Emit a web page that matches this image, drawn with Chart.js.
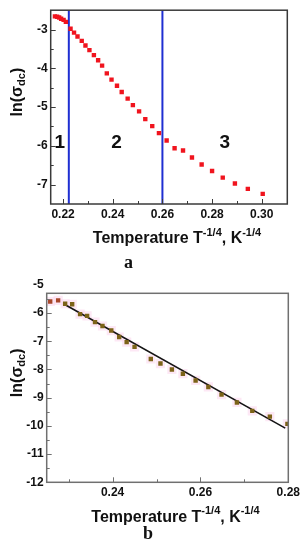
<!DOCTYPE html>
<html lang="en">
<head>
  <meta charset="UTF-8" />
  <title>ln(σdc) vs T^-1/4</title>
  <script src="https://cdn.jsdelivr.net/npm/chart.js@4.4.0/dist/chart.umd.min.js"></script>
  <style>
    body {
      margin: 0;
      background: #fff;
      width: 305px;
      height: 550px;
      position: relative;
      overflow: hidden;
    }
    .panel {
      position: absolute;
      left: 0;
      width: 305px;
      height: 275px;
    }
    .tag {
      position: absolute;
      font: bold 18px "Liberation Serif", serif;
      color: #111;
    }
  </style>
</head>
<body>
  <div class="panel" style="top:0"><canvas id="chartA" width="305" height="275"></canvas></div>
  <div class="panel" style="top:275px"><canvas id="chartB" width="305" height="275"></canvas></div>
  <div class="tag" style="left:124px; top:252px">a</div>
  <div class="tag" style="left:143px; top:523px">b</div>

  <script>
    // ---- panel a ----
    const tA = [0.2167, 0.2176, 0.2184, 0.2192, 0.2202, 0.2211, 0.2230, 0.2244, 0.2258, 0.2275,
                0.2290, 0.2306, 0.2324, 0.2341, 0.2357, 0.2376, 0.2395, 0.2417, 0.2436, 0.2460,
                0.2481, 0.2506, 0.2531, 0.2559, 0.2586, 0.2617, 0.2649, 0.2683, 0.2719, 0.2758,
                0.2800, 0.2843, 0.2892, 0.2944, 0.3004];
    const lnA = [-2.66, -2.67, -2.69, -2.72, -2.75, -2.80, -2.98, -3.08, -3.18, -3.29,
                 -3.41, -3.53, -3.66, -3.79, -3.93, -4.13, -4.29, -4.45, -4.61, -4.78,
                 -4.95, -5.11, -5.31, -5.49, -5.67, -5.86, -6.06, -6.12, -6.30, -6.48,
                 -6.65, -6.82, -6.97, -7.11, -7.24];
    const boundaries = [0.2223, 0.26];
    const regionNames = ['1', '2', '3'];
    const regionT = [0.2187, 0.2415, 0.2851];
    const regionLn = [-5.93, -5.93, -5.93];
    const xMajorA = [0.22, 0.24, 0.26, 0.28, 0.30];
    const xMinorA = [0.23, 0.25, 0.27, 0.29];
    const yMajorA = [-3, -4, -5, -6, -7];
    const yMinorA = [-3.5, -4.5, -5.5, -6.5];

    // ---- panel b ----
    const tB = [0.2258, 0.2276, 0.2292, 0.2308, 0.2326, 0.2342, 0.2360, 0.2377, 0.2397, 0.2415,
                0.2432, 0.2450, 0.2487, 0.2509, 0.2535, 0.2560, 0.2589, 0.2618, 0.2648, 0.2683,
                0.2718, 0.2758, 0.2798];
    const lnB = [-5.59, -5.55, -5.67, -5.69, -6.04, -6.10, -6.32, -6.46, -6.62, -6.85,
                 -7.03, -7.20, -7.63, -7.79, -8.00, -8.15, -8.39, -8.62, -8.89, -9.17,
                 -9.47, -9.67, -9.93];
    const fitT = [0.2288, 0.2793];
    const fitLn = [-5.67, -10.08];
    const xMajorB = [0.24, 0.26, 0.28];
    const xMinorB = [0.23, 0.25, 0.27];
    const yMajorB = [-5, -6, -7, -8, -9, -10, -11, -12];
    const yMinorB = [-5.5, -6.5, -7.5, -8.5, -9.5, -10.5, -11.5];

    const FONT = '"Liberation Sans", Arial, sans-serif';
    const xTitle = [['Temperature T', 0], ['-1/4', 1], [', K', 0], ['-1/4', 1]];
    const yTitle = [['ln(σ', 0], ['dc', -1], [')', 0]];

    const near = (arr, v) => arr.some(a => Math.abs(a - v) < 1e-6);

    function drawRich(ctx, parts, cx, cy, size) {
      const fontFor = k => `bold ${k ? Math.round(size * 0.68) : size}px ${FONT}`;
      let w = 0;
      parts.forEach(([t, k]) => { ctx.font = fontFor(k); w += ctx.measureText(t).width; });
      let x = cx - w / 2;
      ctx.textAlign = 'left';
      ctx.textBaseline = 'middle';
      parts.forEach(([t, k]) => {
        ctx.font = fontFor(k);
        const dy = k === 1 ? -size * 0.38 : (k === -1 ? size * 0.25 : 0);
        ctx.fillText(t, x, cy + dy);
        x += ctx.measureText(t).width;
      });
    }

    // frame, inward ticks, axis titles, region numbers
    function decor(cfg) {
      return {
        id: 'decor',
        afterDraw(chart) {
          const { ctx, chartArea: a } = chart;
          const sx = chart.scales.x, sy = chart.scales.y;
          ctx.save();
          ctx.strokeStyle = cfg.frame;
          ctx.lineWidth = 1;
          sx.ticks.forEach(t => {
            const p = Math.round(sx.getPixelForValue(t.value)) + 0.5;
            if (p < a.left + 1 || p > a.right - 1) return;
            const len = near(cfg.xMajor, t.value) ? 5 : 3;
            ctx.beginPath(); ctx.moveTo(p, a.bottom); ctx.lineTo(p, a.bottom - len); ctx.stroke();
          });
          sy.ticks.forEach(t => {
            const p = Math.round(sy.getPixelForValue(t.value)) + 0.5;
            if (p < a.top + 1 || p > a.bottom - 1) return;
            const len = near(cfg.yMajor, t.value) ? 5 : 3;
            ctx.beginPath(); ctx.moveTo(a.left, p); ctx.lineTo(a.left + len, p); ctx.stroke();
          });
          ctx.lineWidth = 1.5;
          ctx.strokeRect(a.left, a.top, a.right - a.left, a.bottom - a.top);

          ctx.fillStyle = '#111';
          drawRich(ctx, xTitle, (a.left + a.right) / 2 + 8, a.bottom + 35, 16);
          ctx.save();
          ctx.translate(18, (a.top + a.bottom) / 2 - 15);
          ctx.rotate(-Math.PI / 2);
          drawRich(ctx, yTitle, 0, 0, 16);
          ctx.restore();

          if (cfg.regions) {
            ctx.font = `bold 19px ${FONT}`;
            ctx.textAlign = 'center';
            ctx.textBaseline = 'middle';
            cfg.regions.names.forEach((n, i) => {
              ctx.fillText(n, sx.getPixelForValue(cfg.regions.t[i]), sy.getPixelForValue(cfg.regions.ln[i]));
            });
          }
          ctx.restore();
        }
      };
    }

    function axis(min, max, majors, minors, fmt, extra) {
      return Object.assign({
        type: 'linear',
        min: min,
        max: max,
        grid: { display: false, drawTicks: false },
        border: { display: false },
        afterBuildTicks: s => {
          s.ticks = majors.concat(minors).sort((p, q) => p - q).map(v => ({ value: v }));
        },
        ticks: {
          autoSkip: false,
          maxRotation: 0,
          color: '#111',
          font: { family: FONT, size: 12, weight: 'bold' },
          callback: v => near(majors, v) ? fmt(v) : ''
        }
      }, extra || {});
    }

    const pts = (xs, ys) => xs.map((x, i) => ({ x: x, y: ys[i] }));

    // panel a
    const yMinA = -7.5, yMaxA = -2.5;
    new Chart(document.getElementById('chartA'), {
      type: 'scatter',
      data: {
        datasets: [
          {
            data: pts(tA, lnA),
            pointStyle: 'rect',
            pointRadius: 3.1,
            pointHoverRadius: 3.1,
            backgroundColor: '#f0141e',
            borderWidth: 0,
            order: 1
          },
          ...boundaries.map(b => ({
            type: 'line',
            data: [{ x: b, y: yMinA }, { x: b, y: yMaxA }],
            borderColor: '#1f2fd2',
            borderWidth: 2,
            pointRadius: 0,
            order: 2
          }))
        ]
      },
      options: {
        responsive: false,
        animation: false,
        layout: { padding: { left: 0, right: 17.7, top: 6.5, bottom: 0 } },
        plugins: { legend: { display: false }, tooltip: { enabled: false } },
        scales: {
          x: axis(0.215, 0.3103, xMajorA, xMinorA, v => v.toFixed(2), {
            afterFit: s => { s.height = 71; }
          }),
          y: axis(yMinA, yMaxA, yMajorA, yMinorA, v => String(v), {
            afterFit: s => { s.width = 50.7; }
          })
        }
      },
      plugins: [decor({
        frame: '#3a3a3a', xMajor: xMajorA, yMajor: yMajorA,
        regions: { names: regionNames, t: regionT, ln: regionLn }
      })]
    });

    // panel b
    new Chart(document.getElementById('chartB'), {
      type: 'scatter',
      data: {
        datasets: [
          {
            data: pts(tB, lnB),
            pointStyle: 'rect',
            pointRadius: 6.5,
            pointHoverRadius: 6.5,
            backgroundColor: 'rgba(252, 214, 236, 0.55)',
            borderWidth: 0,
            order: 3
          },
          {
            type: 'line',
            data: pts(fitT, fitLn),
            borderColor: '#141414',
            borderWidth: 1.6,
            pointRadius: 0,
            order: 2
          },
          {
            data: pts(tB, lnB),
            pointStyle: 'rect',
            pointRadius: 3.1,
            pointHoverRadius: 3.1,
            backgroundColor: tB.map((t, i) => i < 2 ? '#a8472a' : '#7c6318'),
            borderWidth: 0,
            order: 1
          }
        ]
      },
      options: {
        responsive: false,
        animation: false,
        layout: { padding: { left: 0, right: 16.7, top: 18.3, bottom: 0 } },
        plugins: { legend: { display: false }, tooltip: { enabled: false } },
        scales: {
          x: axis(0.225, 0.28, xMajorB, xMinorB, v => v.toFixed(2), {
            afterFit: s => { s.height = 67.7; }
          }),
          y: axis(-12, -5.3, yMajorB, yMinorB, v => String(v), {
            afterFit: s => { s.width = 46.7; }
          })
        }
      },
      plugins: [decor({ frame: '#707070', xMajor: xMajorB, yMajor: yMajorB })]
    });
  </script>
</body>
</html>
